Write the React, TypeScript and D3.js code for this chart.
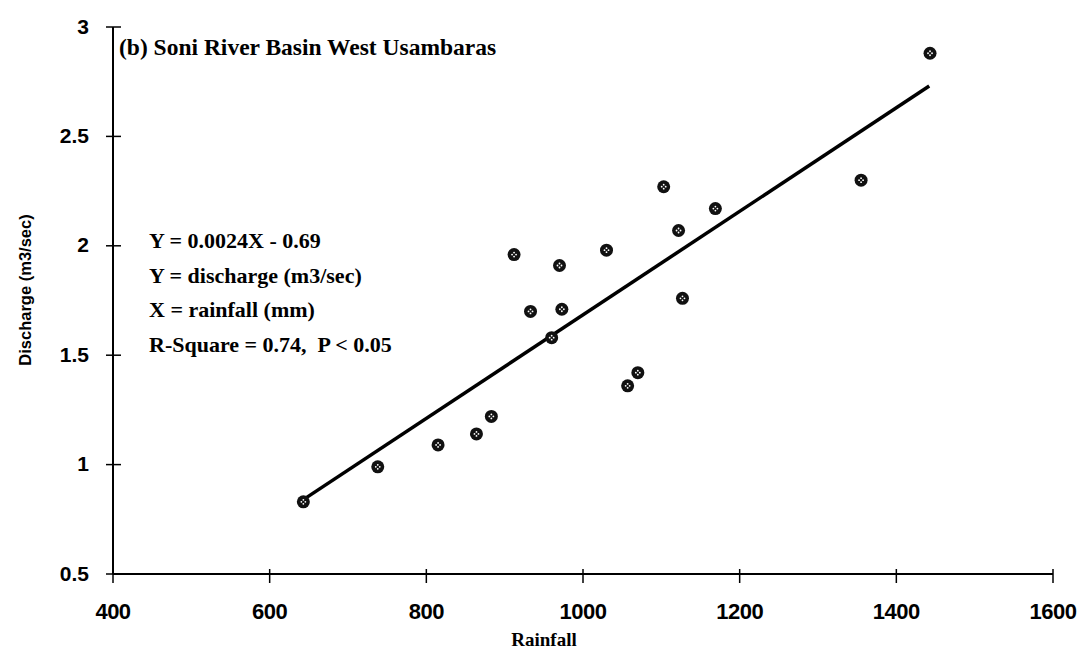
import * as d3 from "d3";

// values (b)
const rainfall = [643, 738, 815, 864, 883, 912, 933, 960, 970, 973, 1030, 1057, 1070, 1103, 1122, 1127, 1169, 1355, 1443];
const discharge = [0.83, 0.99, 1.09, 1.14, 1.22, 1.96, 1.7, 1.58, 1.91, 1.71, 1.98, 1.36, 1.42, 2.27, 2.07, 1.76, 2.17, 2.3, 2.88];

const xTicks = [400, 600, 800, 1000, 1200, 1400, 1600];
const yTicks = [0.5, 1, 1.5, 2, 2.5, 3];

// fitted line as drawn in the figure
const fitRainfall = [643, 1442];
const fitDischarge = [0.84, 2.73];

const title = "(b) Soni River Basin West Usambaras";
const noteLines = [
  "Y = 0.0024X - 0.69",
  "Y = discharge (m3/sec)",
  "X = rainfall (mm)",
  "R-Square = 0.74,  P < 0.05",
];

const width = 1083;
const height = 659;
const margin = { top: 27, right: 30, bottom: 85, left: 113 };

const sans = "'Liberation Sans', Arial, sans-serif";
const serif = "'Liberation Serif', 'Times New Roman', serif";

const App = () => {
  const x = d3
    .scaleLinear()
    .domain([400, 1600])
    .range([margin.left, width - margin.right]);
  const y = d3
    .scaleLinear()
    .domain([0.5, 3])
    .range([height - margin.bottom, margin.top]);

  const points = rainfall.map((r, i) => ({ r, d: discharge[i] }));
  const fit = fitRainfall.map((r, i) => [r, fitDischarge[i]] as [number, number]);
  const fitPath = d3
    .line<[number, number]>()
    .x((d) => x(d[0]))
    .y((d) => y(d[1]))(fit);

  const x0 = x(400);
  const y0 = y(0.5);

  return (
    <svg
      width={width}
      height={height}
      style={{ position: "absolute", left: 0, top: 0, background: "#fff" }}
    >
      {/* axes */}
      <line x1={x0} x2={x0} y1={y(3)} y2={y0} stroke="#000" strokeWidth={2} />
      <line x1={x0} x2={x(1600)} y1={y0} y2={y0} stroke="#000" strokeWidth={2} />

      {yTicks.map((t) => (
        <g key={"y" + t}>
          <line x1={x0 - 7} x2={x0 + 8} y1={y(t)} y2={y(t)} stroke="#000" strokeWidth={1.5} />
          <text
            x={x0 - 24}
            y={y(t) - 1}
            textAnchor="end"
            dominantBaseline="central"
            fontFamily={sans}
            fontWeight="bold"
            fontSize={21}
          >
            {t}
          </text>
        </g>
      ))}

      {xTicks.map((t) => (
        <g key={"x" + t}>
          <line x1={x(t)} x2={x(t)} y1={y0 - 5} y2={y0 + 9} stroke="#000" strokeWidth={1.5} />
          <text
            x={x(t)}
            y={y0 + 45}
            textAnchor="middle"
            fontFamily={sans}
            fontWeight="bold"
            fontSize={22}
            letterSpacing={-0.5}
          >
            {t}
          </text>
        </g>
      ))}

      {/* axis titles */}
      <text
        x={544}
        y={646}
        textAnchor="middle"
        fontFamily={serif}
        fontWeight="bold"
        fontSize={19}
      >
        Rainfall
      </text>
      <text
        transform="translate(31,290) rotate(-90)"
        textAnchor="middle"
        fontFamily={sans}
        fontWeight="bold"
        fontSize={16.5}
      >
        Discharge (m3/sec)
      </text>

      {/* panel title */}
      <text x={119} y={55} fontFamily={serif} fontWeight="bold" fontSize={23.5}>
        {title}
      </text>

      {/* regression notes */}
      {noteLines.map((s, i) => (
        <text
          key={s}
          x={149}
          y={248 + i * 34.7}
          fontFamily={serif}
          fontWeight="bold"
          fontSize={22}
          style={{ whiteSpace: "pre" }}
        >
          {s}
        </text>
      ))}

      {/* fitted line */}
      <path d={fitPath ?? ""} fill="none" stroke="#000" strokeWidth={3.5} />

      {/* observations */}
      {points.map((p, i) => (
        <g key={i} transform={`translate(${x(p.r)},${y(p.d)})`}>
          <circle r={6.5} fill="#111" />
          <circle cx={-2} cy={0} r={0.9} fill="#fff" />
          <circle cx={2} cy={0} r={0.9} fill="#fff" />
          <circle cx={0} cy={-2} r={0.9} fill="#fff" />
          <circle cx={0} cy={2} r={0.9} fill="#fff" />
        </g>
      ))}
    </svg>
  );
};

export default App;
